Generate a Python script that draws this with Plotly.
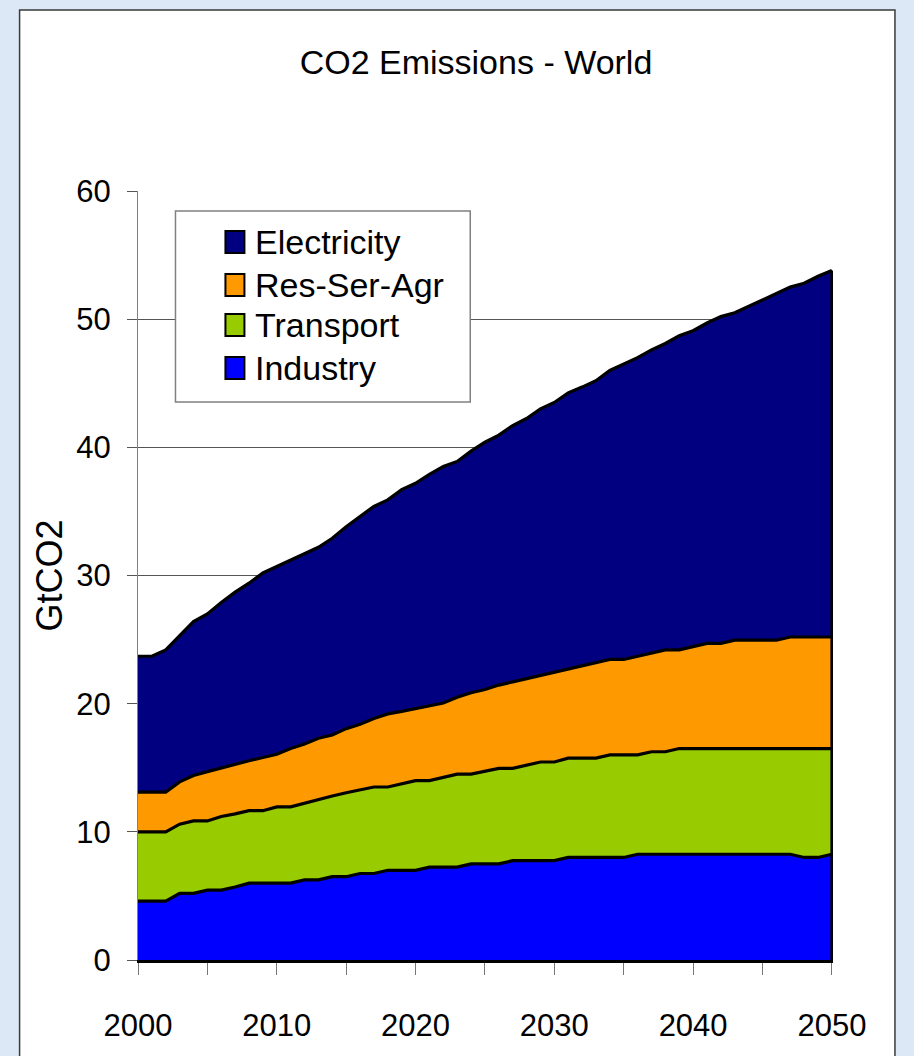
import plotly.graph_objects as go

# ---------------- data (GtCO2) ----------------
years = list(range(2000, 2051))

industry = [4.6, 4.6, 4.6, 5.2, 5.2, 5.45, 5.45, 5.7, 6.0, 6.0,
            6.0, 6.0, 6.25, 6.25, 6.5, 6.5, 6.75, 6.75, 7.0, 7.0,
            7.0, 7.25, 7.25, 7.25, 7.5, 7.5, 7.5, 7.75, 7.75, 7.75,
            7.75, 8.0, 8.0, 8.0, 8.0, 8.0, 8.25, 8.25, 8.25, 8.25,
            8.25, 8.25, 8.25, 8.25, 8.25, 8.25, 8.25, 8.25, 8.0, 8.0,
            8.25]

transport = [5.4, 5.4, 5.4, 5.4, 5.65, 5.4, 5.75, 5.7, 5.65, 5.65,
             5.95, 5.95, 6.0, 6.25, 6.3, 6.55, 6.55, 6.75, 6.5, 6.75,
             7.0, 6.75, 7.0, 7.25, 7.0, 7.25, 7.45, 7.2, 7.45, 7.7,
             7.7, 7.75, 7.75, 7.75, 8.0, 8.0, 7.75, 8.0, 8.0, 8.25,
             8.25, 8.25, 8.25, 8.25, 8.25, 8.25, 8.25, 8.25, 8.5, 8.5,
             8.25]

res_ser_agr = [3.1, 3.1, 3.1, 3.3, 3.55, 3.85, 3.8, 3.9, 3.9, 4.15,
               4.1, 4.55, 4.6, 4.8, 4.75, 5.0, 5.1, 5.35, 5.7, 5.65,
               5.6, 5.85, 5.8, 6.0, 6.35, 6.35, 6.5, 6.75, 6.75, 6.75,
               7.0, 7.0, 7.25, 7.5, 7.45, 7.45, 7.7, 7.7, 7.95, 7.7,
               7.95, 8.2, 8.2, 8.45, 8.45, 8.45, 8.45, 8.7, 8.7, 8.7,
               8.7]

electricity = [10.6, 10.6, 11.1, 11.4, 12.0, 12.3, 12.9, 13.4, 13.85, 14.4,
               14.65, 14.7, 14.85, 14.9, 15.35, 15.75, 16.2, 16.55, 16.7, 17.3,
               17.6, 18.05, 18.45, 18.4, 18.85, 19.3, 19.5, 20.0, 20.3, 20.8,
               21.05, 21.5, 21.7, 21.95, 22.55, 23.05, 23.3, 23.65, 23.9, 24.5,
               24.65, 25.0, 25.5, 25.55, 26.05, 26.55, 27.0, 27.3, 27.6, 28.15,
               28.6]

stack_order = ["Industry", "Transport", "Res-Ser-Agr", "Electricity"]
legend_order = ["Electricity", "Res-Ser-Agr", "Transport", "Industry"]
series = {"Industry": industry, "Transport": transport,
          "Res-Ser-Agr": res_ser_agr, "Electricity": electricity}
colors = {"Industry": "#0000FF", "Transport": "#99CC00",
          "Res-Ser-Agr": "#FF9900", "Electricity": "#000080"}

x_ticks = [2000, 2010, 2020, 2030, 2040, 2050]
y_ticks = [0, 10, 20, 30, 40, 50, 60]

# ---------------- layout geometry (pixels) ----------------
W_FIG, H_FIG = 914, 1056
M_L, M_R, M_T, M_B = 137.5, 81, 191, 96
PW = W_FIG - M_L - M_R
PH = H_FIG - M_T - M_B

def px(p):
    return (p - M_L) / PW

def py(p):
    return (H_FIG - M_B - p) / PH

FONT = "Liberation Sans, Arial, sans-serif"

fig = go.Figure()
for name in stack_order:
    fig.add_trace(go.Scatter(
        x=years, y=series[name], name=name, stackgroup="one", mode="lines",
        line=dict(color="black", width=3.2), fillcolor=colors[name],
        showlegend=False, hoverinfo="x+y+name"))

# right-hand outline of the stacked area
total_last = sum(series[n][-1] for n in stack_order)
fig.add_trace(go.Scatter(x=[years[-1], years[-1]], y=[0, total_last], mode="lines",
                         line=dict(color="black", width=3), showlegend=False,
                         hoverinfo="skip"))

shapes = []
# slide panel
shapes.append(dict(type="rect", xref="paper", yref="paper", layer="below",
                   x0=px(19), x1=px(895), y0=py(1070), y1=py(10),
                   fillcolor="white", line=dict(color="#3a3a3a", width=1.5)))
# legend box
shapes.append(dict(type="rect", xref="paper", yref="paper", layer="above",
                   x0=px(175), x1=px(470), y0=py(402), y1=py(211),
                   fillcolor="white", line=dict(color="#808080", width=1.5)))

annotations = []
icon_centers = [242, 285, 325, 368]
for name, cy in zip(legend_order, icon_centers):
    shapes.append(dict(type="rect", xref="paper", yref="paper", layer="above",
                       x0=px(225), x1=px(244), y0=py(cy + 11), y1=py(cy - 11),
                       fillcolor=colors[name], line=dict(color="black", width=2)))
    annotations.append(dict(text=name, xref="paper", yref="paper",
                            x=px(253), y=py(cy), xanchor="left", yanchor="middle",
                            showarrow=False, font=dict(family=FONT, size=34, color="black")))

fig.update_layout(
    width=W_FIG, height=H_FIG,
    margin=dict(l=M_L, r=M_R, t=M_T, b=M_B, autoexpand=False),
    paper_bgcolor="#dce8f5", plot_bgcolor="rgba(0,0,0,0)",
    font=dict(family=FONT, color="black"),
    title=dict(text="CO2 Emissions - World", xref="container", yref="container",
               x=476 / W_FIG, y=1 - 62 / H_FIG, xanchor="center", yanchor="middle",
               font=dict(family=FONT, size=34, color="black")),
    showlegend=False,
    shapes=shapes, annotations=annotations,
    xaxis=dict(range=[2000, 2050.08], tickvals=x_ticks, ticktext=[str(v) for v in x_ticks],
               ticks="outside", ticklen=12, tickcolor="#777777", tickwidth=1,
               showline=True, linecolor="black", linewidth=3, showgrid=False, zeroline=False,
               tickfont=dict(family=FONT, size=31, color="black"), ticklabelstandoff=24,
               minor=dict(dtick=5, tick0=2000, ticks="outside", ticklen=12,
                          tickcolor="#777777", tickwidth=1, showgrid=False)),
    yaxis=dict(range=[0, 60], tickvals=y_ticks, ticks="outside", ticklen=10,
               tickcolor="#555555", showline=True, linecolor="#808080", linewidth=1,
               showgrid=True, gridcolor="#555555", gridwidth=1, zeroline=False,
               tickfont=dict(family=FONT, size=31, color="black"), ticklabelstandoff=10,
               title=dict(text="GtCO2", standoff=2,
                          font=dict(family=FONT, size=36, color="black"))),
)

fig.write_html("out.html")
